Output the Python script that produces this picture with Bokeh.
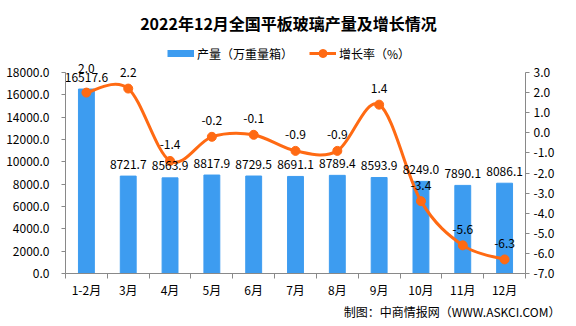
from bokeh.plotting import figure
from bokeh.models import (Range1d, LinearAxis, FixedTicker, NumeralTickFormatter,
                          Legend, LegendItem, Title, Label)
from bokeh.embed import file_html
from bokeh.resources import INLINE
from bokeh.core.properties import value

# ---- data ----
months = ["1-2月", "3月", "4月", "5月", "6月", "7月", "8月", "9月", "10月", "11月", "12月"]
output = [16517.6, 8721.7, 8563.9, 8817.9, 8729.5, 8691.1, 8789.4, 8593.9, 8249.0, 7890.1, 8086.1]
growth = [2.0, 2.2, -1.4, -0.2, -0.1, -0.9, -0.9, 1.4, -3.4, -5.6, -6.3]
left_ticks = [0, 2000, 4000, 6000, 8000, 10000, 12000, 14000, 16000, 18000]
right_ticks = [-7, -6, -5, -4, -3, -2, -1, 0, 1, 2, 3]

title_text = "2022年12月全国平板玻璃产量及增长情况"
source_text = "制图：中商情报网（WWW.ASKCI.COM）"
bar_name = "产量（万重量箱）"
line_name = "增长率（%）"

FONT = "Noto Sans CJK SC"
BAR = "#3D9CF0"
LINE = "#FF6A13"
AXIS = "#898989"

# layout constants (pixels)
W, H = 576, 326
LEFT, RIGHT, BOTTOM = 65, 51, 53
TOP_PAD = 72            # header space (title + legend) kept inside the frame
PLOT_H = H - BOTTOM - TOP_PAD
FRAME_H = H - BOTTOM

n = len(months)
xs = [i + 0.5 for i in range(n)]

l0, l1 = left_ticks[0], left_ticks[-1]
r0, r1 = right_ticks[0], right_ticks[-1]
y_top = l0 + (l1 - l0) * FRAME_H / PLOT_H
r_top = r0 + (r1 - r0) * FRAME_H / PLOT_H

p = figure(width=W, height=H, output_backend="svg", toolbar_location=None,
           x_range=Range1d(0, n), y_range=Range1d(l0, y_top),
           min_border_left=LEFT, min_border_right=RIGHT, min_border_top=0,
           min_border_bottom=BOTTOM, x_axis_location=None, y_axis_location=None)
p.outline_line_color = None
p.grid.visible = False
p.extra_y_ranges = {"rate": Range1d(r0, r_top)}

# axes
xaxis = LinearAxis(ticker=FixedTicker(ticks=xs, minor_ticks=list(range(n + 1))),
                   major_label_overrides={x: m for x, m in zip(xs, months)})
xaxis.major_tick_out = 0
xaxis.major_tick_in = 0
xaxis.minor_tick_out = 5
xaxis.minor_tick_in = 0
xaxis.minor_tick_line_color = AXIS
xaxis.axis_line_color = AXIS
xaxis.major_label_standoff = 2
p.add_layout(xaxis, "below")

laxis = LinearAxis(ticker=FixedTicker(ticks=left_ticks), formatter=NumeralTickFormatter(format="0.0"),
                   bounds=(l0, l1))
laxis.major_tick_out = 4
laxis.major_tick_in = 0
laxis.minor_tick_out = 0
laxis.minor_tick_in = 0
laxis.axis_line_color = AXIS
laxis.major_tick_line_color = AXIS
laxis.major_label_standoff = 12
p.add_layout(laxis, "left")

raxis = LinearAxis(y_range_name="rate", ticker=FixedTicker(ticks=right_ticks),
                   formatter=NumeralTickFormatter(format="0.0"), bounds=(r0, r1))
raxis.major_tick_out = 4
raxis.major_tick_in = 0
raxis.minor_tick_out = 0
raxis.minor_tick_in = 0
raxis.axis_line_color = AXIS
raxis.major_tick_line_color = AXIS
raxis.major_label_standoff = 4
p.add_layout(raxis, "right")

for ax in (xaxis, laxis, raxis):
    ax.major_label_text_font = FONT
    ax.major_label_text_font_size = "12px"
    ax.major_label_text_color = "#000000"

# bars
p.vbar(x=xs, top=output, width=0.38, color=BAR)

# smooth line (Catmull-Rom -> cubic Bezier through the data points)
pts = list(zip(xs, growth))
x0 = []; y0 = []; x1 = []; y1 = []; cx0 = []; cy0 = []; cx1 = []; cy1 = []
for i in range(n - 1):
    pm = pts[i - 1] if i > 0 else pts[i]
    pa = pts[i]
    pb = pts[i + 1]
    pn = pts[i + 2] if i + 2 < n else pts[i + 1]
    x0.append(pa[0]); y0.append(pa[1]); x1.append(pb[0]); y1.append(pb[1])
    cx0.append(pa[0] + (pb[0] - pm[0]) / 6); cy0.append(pa[1] + (pb[1] - pm[1]) / 6)
    cx1.append(pb[0] - (pn[0] - pa[0]) / 6); cy1.append(pb[1] - (pn[1] - pa[1]) / 6)
p.bezier(x0=x0, y0=y0, x1=x1, y1=y1, cx0=cx0, cy0=cy0, cx1=cx1, cy1=cy1,
         line_color=LINE, line_width=3, line_cap="round", y_range_name="rate")
p.scatter(x=xs, y=growth, size=9, color=LINE, y_range_name="rate")

# data labels
p.text(x=xs, y=output, text=[f"{v:.1f}" for v in output], text_align="center",
       text_baseline="middle", y_offset=-12, text_font=value(FONT),
       text_font_size="12px", text_color="#000000")
g_off = [-24 if i == 0 else -16 for i in range(n)]
p.text(x=xs, y=growth, text=[f"{v:.1f}" for v in growth], text_align="center",
       text_baseline="middle", y_offset=g_off, text_font=value(FONT),
       text_font_size="12px", text_color="#000000", y_range_name="rate")

# title (inside the top header area of the frame)
p.add_layout(Label(x=W / 2 - LEFT, y=FRAME_H - 22, x_units="screen", y_units="screen",
                   text=title_text, text_align="center", text_baseline="middle",
                   text_font=FONT, text_font_size="16px", text_font_style="bold",
                   text_color="#000000"))

# legend (helper renderers with a single undrawn point so that the legend glyphs show)
nan = float("nan")
leg_bar = p.line([nan], [nan], line_color=BAR, line_width=7, line_cap="butt")
leg_line = p.line([nan], [nan], line_color=LINE, line_width=3)
leg_pt = p.scatter([nan], [nan], size=8, color=LINE)
legend = Legend(items=[LegendItem(label=bar_name, renderers=[leg_bar]),
                       LegendItem(label=line_name, renderers=[leg_line, leg_pt])],
                orientation="horizontal", location=(102, FRAME_H - 63),
                glyph_width=27, glyph_height=20, label_standoff=3, spacing=16,
                padding=5, margin=0, border_line_color=None, background_fill_alpha=0,
                label_text_font=FONT, label_text_font_size="12px", label_text_color="#000000")
p.add_layout(legend, "center")

src = Title(text=source_text, align="right", vertical_align="top", text_font=FONT,
            text_font_size="12px", text_font_style="normal", text_color="#000000",
            offset=-35, standoff=4)
p.add_layout(src, "below")

open("out.html", "w").write(file_html(p, INLINE))
